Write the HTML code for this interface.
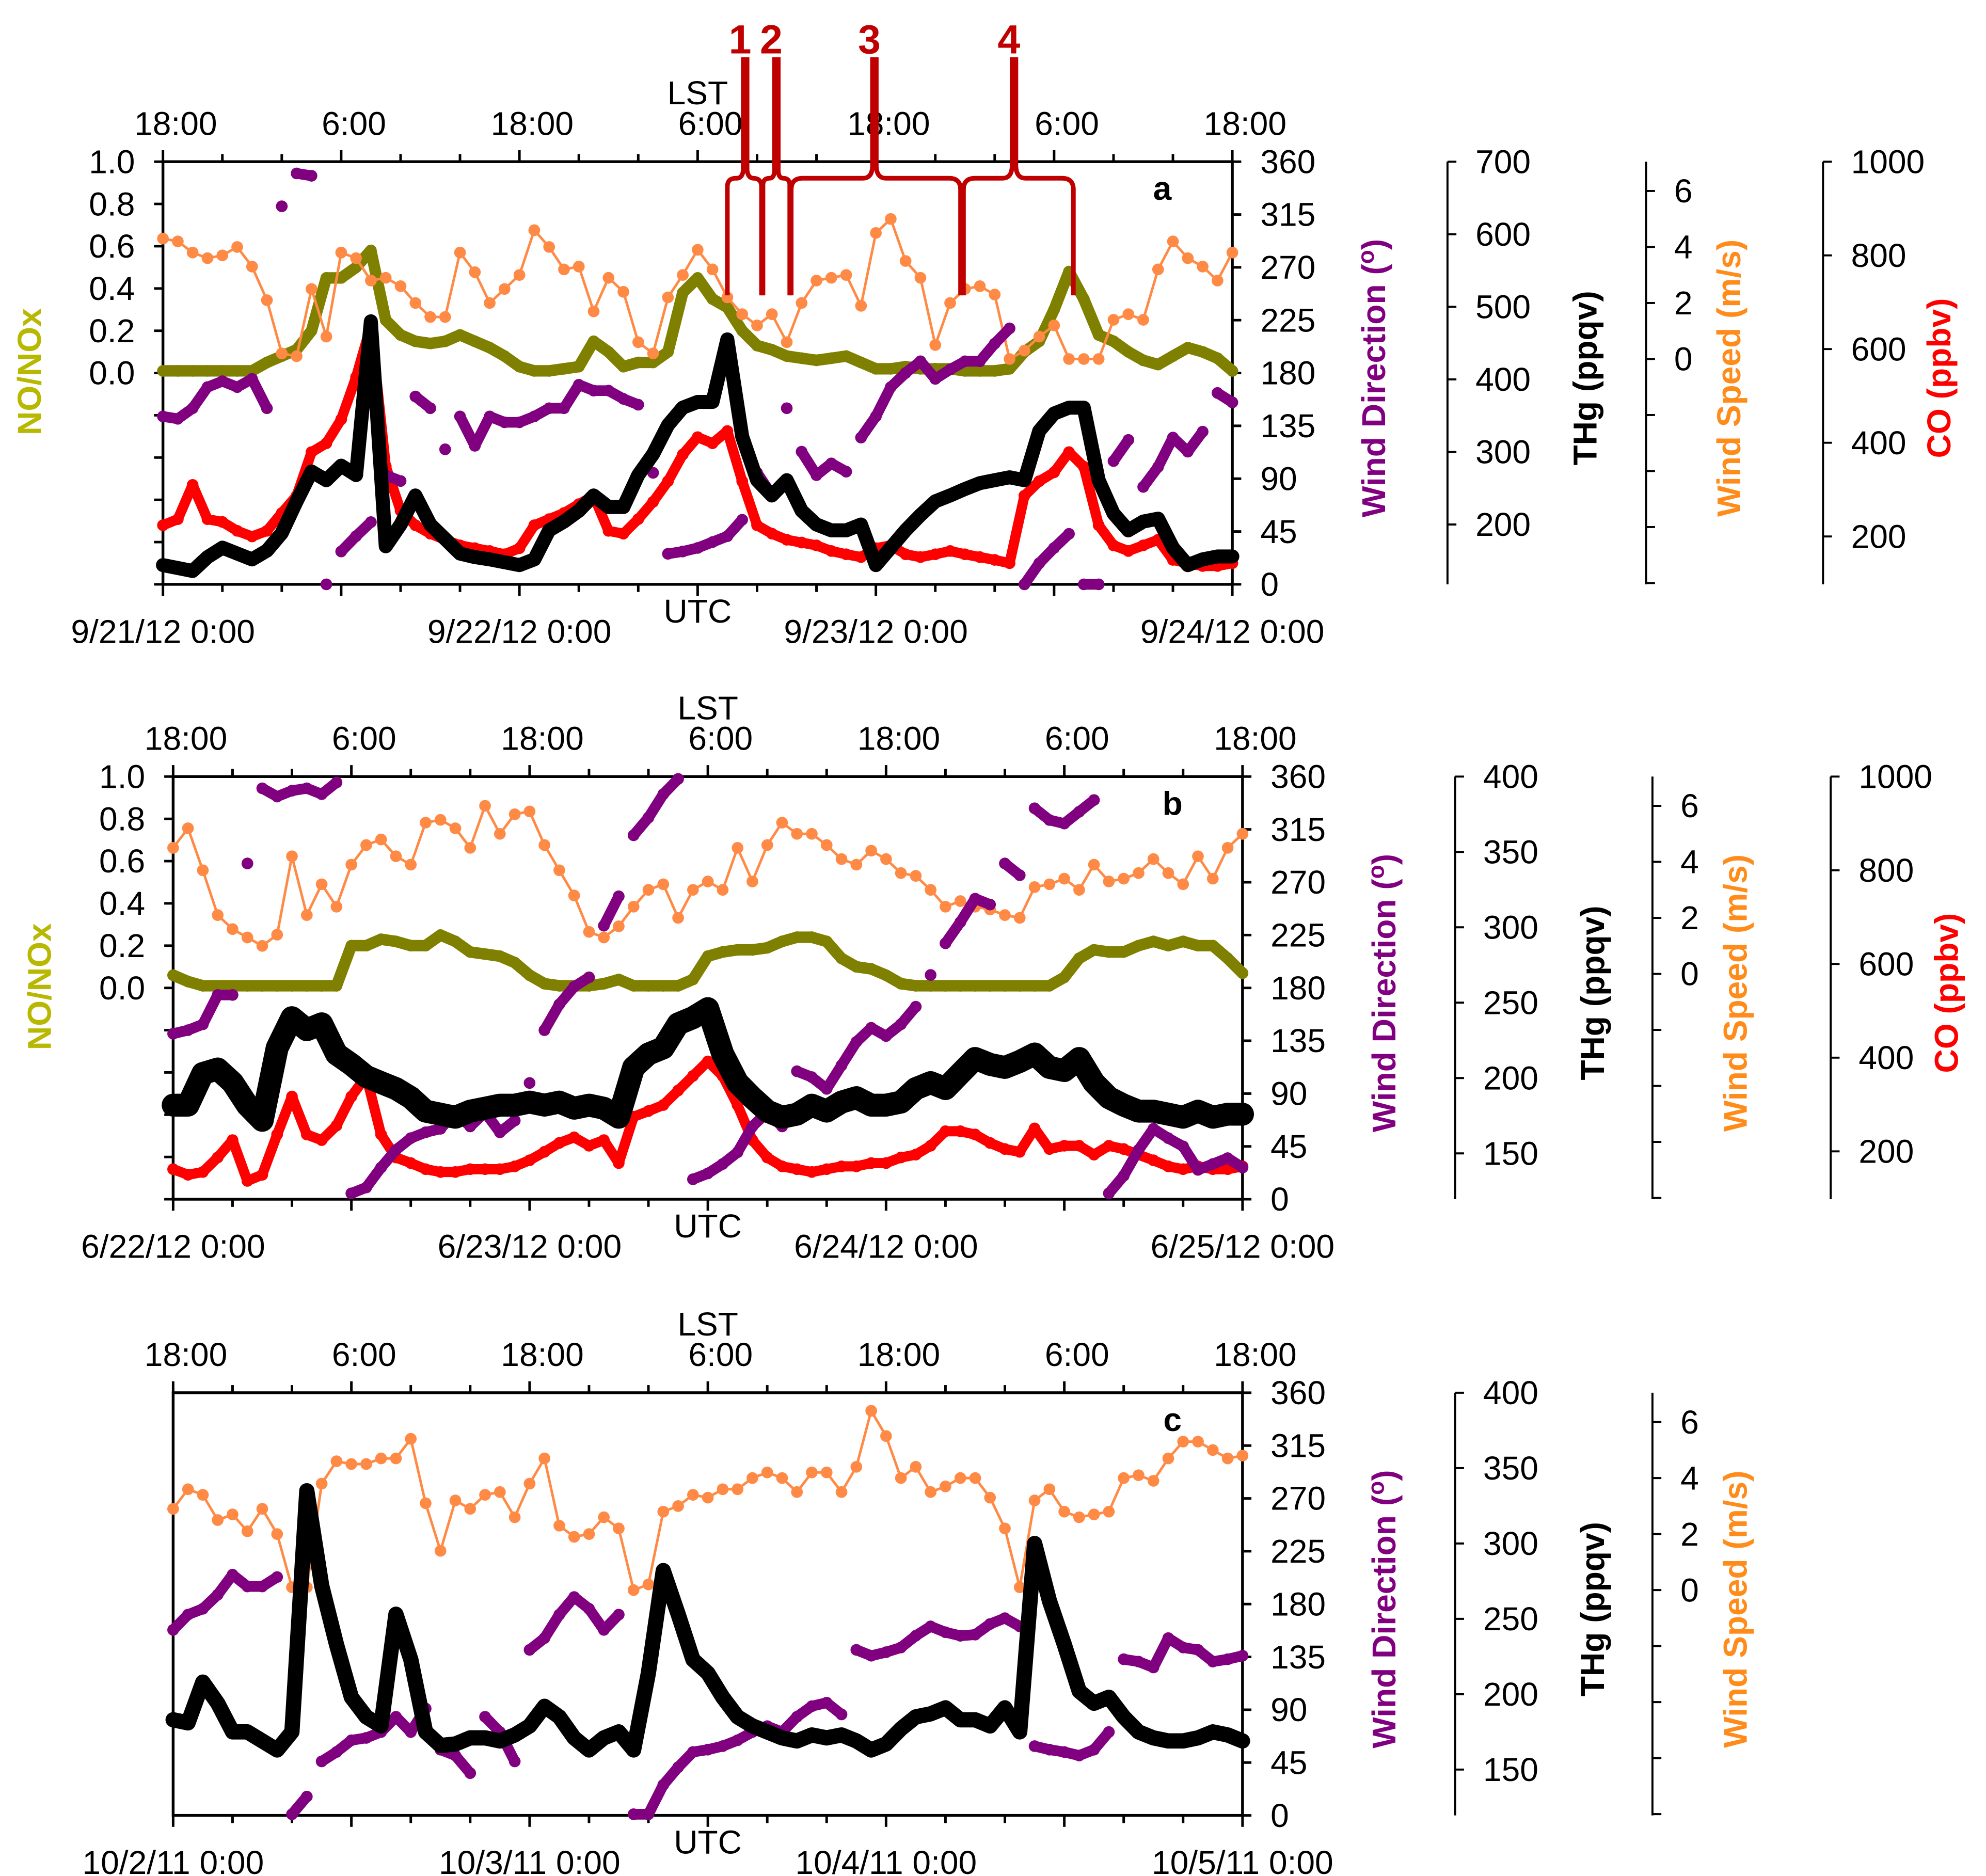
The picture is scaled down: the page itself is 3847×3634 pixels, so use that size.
<!DOCTYPE html>
<html><head><meta charset="utf-8"><style>
html,body{margin:0;padding:0;background:#fff;}
svg{display:block;font-family:"Liberation Sans",Arial,sans-serif;}
</style></head><body>
<svg id="chart" xmlns="http://www.w3.org/2000/svg" width="3847" height="3634" viewBox="0 0 1560 1473.6" preserveAspectRatio="none"></svg>
<script>
// ---------- data ----------
const hours = Array.from({length:73},(_,i)=>i);
const lstLabels = ["18:00","6:00","18:00","6:00","18:00","6:00","18:00"];
const wdTicks = [0,45,90,135,180,225,270,315,360];
const noTicks = [0.0,0.2,0.4,0.6,0.8,1.0];
const datesA = ["9/21/12 0:00","9/22/12 0:00","9/23/12 0:00","9/24/12 0:00"];
const datesB = ["6/22/12 0:00","6/23/12 0:00","6/24/12 0:00","6/25/12 0:00"];
const datesC = ["10/2/11 0:00","10/3/11 0:00","10/4/11 0:00","10/5/11 0:00"];
const thgTicksA = [200,300,400,500,600,700];
const thgTicksBC = [150,200,250,300,350,400];
const wsTicks = [0,2,4,6];
const coTicks = [200,400,600,800,1000];

const aTHg = [144,140,136,155,168,160,152,164,188,232,273,261,
 281,268,480,170,200,240,200,180,160,155,152,148,
 144,152,192,204,219,240,224,224,268,297,337,361,
 369,369,455,321,261,240,261,219,200,192,192,200,
 144,168,192,213,232,240,249,257,261,265,261,329,
 353,361,361,261,215,192,204,208,168,144,152,156,156];
const aCO = [224,237,310,237,231,212,200,212,250,287,380,399,
 450,540,650,350,255,224,206,193,181,175,169,162,
 175,224,237,250,269,287,212,206,237,274,318,375,
 412,399,425,318,224,206,193,187,181,169,162,156,
 175,181,162,156,162,169,162,156,150,143,287,318,
 337,380,349,224,181,169,181,193,150,143,137,137,143];
const aNO = [0.01,0.01,0.01,0.01,0.01,0.01,0.01,0.05,0.08,0.11,0.2,0.45,
 0.45,0.5,0.58,0.25,0.18,0.15,0.14,0.15,0.18,0.15,0.12,0.08,
 0.03,0.01,0.01,0.02,0.03,0.15,0.1,0.03,0.05,0.05,0.1,0.38,
 0.45,0.35,0.31,0.2,0.13,0.11,0.08,0.07,0.06,0.07,0.08,0.05,
 0.02,0.02,0.03,0.02,0.02,0.02,0.01,0.01,0.01,0.02,0.1,0.15,
 0.3,0.48,0.35,0.18,0.15,0.1,0.06,0.04,0.08,0.12,0.1,0.07,0.01];
const aWS = [4.3,4.2,3.8,3.6,3.7,4.0,3.3,2.1,0.2,0.1,2.5,0.8,
 3.8,3.6,2.8,2.9,2.6,2.0,1.5,1.5,3.8,3.1,2.0,2.5,
 3.0,4.6,4.0,3.2,3.3,1.7,2.9,2.4,0.6,0.2,2.2,3.0,
 3.9,3.2,2.2,1.6,1.2,1.6,0.6,2.0,2.8,2.9,3.0,1.9,
 4.5,5.0,3.5,2.9,0.5,2.0,2.5,2.6,2.3,0.0,0.3,0.8,
 1.2,0.0,0.0,0.0,1.4,1.6,1.4,3.2,4.2,3.6,3.3,2.8,3.8];
const aWD = [143,141,150,168,173,168,175,150,322,350,348,0,
 28,41,53,93,88,160,150,115,143,118,143,138,
 138,143,150,150,170,165,165,158,153,95,26,28,
 31,36,41,55,95,76,150,113,93,103,96,125,
 143,168,180,190,175,183,190,190,205,218,0,18,
 31,43,0,0,105,123,83,100,125,113,130,163,155];

const bTHg = [182,182,203,206,197,182,172,220,240,232,236,216,
 209,201,197,193,187,178,176,174,178,180,182,182,
 184,182,184,180,182,180,174,207,216,220,236,240,
 246,216,197,187,178,174,176,182,178,184,187,182,
 182,184,193,197,193,203,213,209,207,211,216,207,
 205,213,197,187,182,178,178,176,174,178,174,176,176];
const bCO = [162,150,156,187,224,137,150,236,317,236,224,255,
 317,361,236,187,175,162,156,156,162,162,162,168,
 181,199,218,230,212,224,175,274,286,299,330,361,
 392,361,299,224,187,168,162,156,162,168,168,175,
 175,187,193,212,243,243,236,218,205,199,249,205,
 212,212,193,212,205,193,181,168,162,168,162,162,168];
const bNO = [0.06,0.03,0.01,0.01,0.01,0.01,0.01,0.01,0.01,0.01,0.01,0.01,
 0.2,0.2,0.23,0.22,0.2,0.2,0.25,0.22,0.17,0.16,0.15,0.12,
 0.06,0.02,0.01,0.01,0.01,0.02,0.04,0.01,0.01,0.01,0.01,0.04,
 0.15,0.17,0.18,0.18,0.19,0.22,0.24,0.24,0.22,0.14,0.1,0.09,
 0.06,0.02,0.01,0.01,0.01,0.01,0.01,0.01,0.01,0.01,0.01,0.01,
 0.05,0.14,0.18,0.17,0.17,0.2,0.22,0.2,0.22,0.2,0.2,0.14,0.07];
const bWS = [4.5,5.2,3.7,2.1,1.6,1.3,1.0,1.4,4.2,2.1,3.2,2.4,
 3.9,4.6,4.8,4.2,3.9,5.4,5.5,5.2,4.5,6.0,5.0,5.7,
 5.8,4.6,3.7,2.8,1.5,1.3,1.7,2.4,3.0,3.2,2.0,3.0,
 3.3,3.0,4.5,3.3,4.6,5.4,5.0,5.0,4.6,4.1,3.9,4.4,
 4.1,3.6,3.5,3.0,2.4,2.6,2.4,2.3,2.1,2.0,3.1,3.2,
 3.4,3.0,3.9,3.3,3.4,3.6,4.1,3.6,3.2,4.2,3.4,4.5,5.0];
const bWD = [141,144,149,174,174,286,350,343,348,350,345,355,
 5,10,27,42,52,57,60,74,62,74,57,67,
 99,144,166,181,189,233,258,310,325,345,358,17,
 22,30,40,62,74,62,109,104,94,114,134,146,
 139,149,164,191,218,236,256,251,286,276,333,323,
 320,330,340,5,20,42,60,52,45,25,30,35,27];

const cTHg = [183,181,208,194,175,175,169,163,175,335,272,233,
 198,185,179,253,223,175,166,167,171,171,169,173,
 179,192,185,171,163,171,175,163,214,282,253,223,
 214,198,185,179,175,171,169,173,171,173,169,163,
 167,177,185,187,191,183,183,179,191,175,300,262,
 233,202,194,198,185,175,171,169,169,171,175,173,169];
const cWS = [2.9,3.6,3.4,2.5,2.7,2.1,2.9,2.0,0.1,0.1,3.8,4.6,
 4.5,4.5,4.7,4.7,5.4,3.1,1.4,3.2,2.9,3.4,3.5,2.6,
 3.8,4.7,2.3,1.9,2.0,2.6,2.2,0.0,0.2,2.8,3.0,3.4,
 3.3,3.6,3.6,4.0,4.2,4.0,3.5,4.2,4.2,3.5,4.4,6.4,
 5.5,4.0,4.4,3.5,3.7,4.0,4.0,3.3,2.2,0.1,3.2,3.6,
 2.8,2.6,2.7,2.8,4.0,4.1,3.9,4.7,5.3,5.3,5.0,4.7,4.8];
const cWD = [158,171,176,188,205,195,195,203,1,16,46,54,
 64,66,71,84,71,91,56,51,36,84,71,46,
 141,151,171,186,176,158,171,1,1,26,41,54,
 56,59,64,71,76,71,84,93,96,86,141,136,
 139,143,153,161,156,153,154,163,168,161,59,56,
 54,51,56,71,133,131,126,151,143,141,131,133,136];

// ---------- helpers ----------
const NS = "http://www.w3.org/2000/svg";
const svg = document.getElementById("chart");
function mk(tag, attrs, parent){
  const e = document.createElementNS(NS, tag);
  for (const k in attrs) e.setAttribute(k, attrs[k]);
  (parent||svg).appendChild(e);
  return e;
}
function txt(s, attrs, parent){ const e = mk("text", attrs, parent); e.textContent = s; return e; }

const C_PURPLE="#800080", C_RED="#FF0000", C_OLIVE="#808000", C_ORANGE="#FF8A45", C_BLACK="#000000";

function drawPanel(P){
  const g = mk("g", {});
  
  
  const W = 840, H = 332, x0 = P.x0, y0 = P.y0;
  const xOf = h => x0 + h/72*W;
  const yWD = v => y0 + (1 - v/360)*H;
  const yNO = v => y0 + (1 - v)*166;
  const yTHg = v => y0 + (P.thgTop - v)*P.thgScale;
  const yWS = v => y0 + 23 + (6 - v)*22;
  const yCO = v => y0 + (1000 - v)*0.368;

  const frame = mk("rect", {x:x0, y:y0, width:W, height:H, fill:"none", stroke:"#000", "stroke-width":2.2}, g);
  
  

  for (let h=0; h<=72; h+=4){
    const L = (h%12===0)?9:6;
    const t1 = mk("line", {x1:xOf(h), x2:xOf(h), y1:y0, y2:y0-L, stroke:"#000","stroke-width":2}, g);
    
    
    const t2 = mk("line", {x1:xOf(h), x2:xOf(h), y1:y0+H, y2:y0+H+L, stroke:"#000","stroke-width":2}, g);
    
    
  }
  lstLabels.forEach((s,i)=>{
    const t = txt(s, {x:xOf(i*12)+10, y:y0-21, "font-size":26, "text-anchor":"middle"}, g);
    
    
  });
  P.dates.forEach((s,i)=>{
    const t = txt(s, {x:xOf(i*24), y:y0+H+46, "font-size":26, "text-anchor":"middle"}, g);
    
    
  });
  const lst = txt("LST", {x:x0+420, y:y0-45, "font-size":26, "text-anchor":"middle"}, g);
  
  
  const utc = txt("UTC", {x:x0+420, y:y0+H+30, "font-size":26, "text-anchor":"middle"}, g);
  
  
  const letter = txt(P.letter, {x:x0+785, y:y0+30, "font-size":26, "font-weight":"bold", "text-anchor":"middle"}, g);
  
  

  wdTicks.forEach(v=>{
    const t = mk("line", {x1:x0+W, x2:x0+W+7, y1:yWD(v), y2:yWD(v), stroke:"#000","stroke-width":2}, g);
    
    
    const l = txt(String(v), {x:x0+W+22, y:yWD(v)+9, "font-size":26}, g);
    
    
  });
  const wdT = txt("Wind Direction (", {transform:`translate(${P.axX[0]},${y0+170}) rotate(-90)`, "font-size":26, "font-weight":"bold", fill:C_PURPLE, "text-anchor":"middle"}, g);
  const sup = document.createElementNS(NS,"tspan"); sup.setAttribute("dy","-9"); sup.setAttribute("font-size","18"); sup.textContent="o"; wdT.appendChild(sup);
  const cl = document.createElementNS(NS,"tspan"); cl.setAttribute("dy","9"); cl.textContent=")"; wdT.appendChild(cl);
  
  

  if (P.no){
    for (let k=0;k<=10;k++){
      const t = mk("line", {x1:x0-7, x2:x0, y1:y0+k*H/10, y2:y0+k*H/10, stroke:"#000","stroke-width":2}, g);
      
      
    }
    noTicks.forEach(v=>{
      const l = txt(v.toFixed(1), {x:x0-22, y:yNO(v)+9, "font-size":26, "text-anchor":"end"}, g);
      
      
    });
    const nt = txt("NO/NOx", {transform:`translate(${x0-96},${y0+165}) rotate(-90)`, "font-size":26, "font-weight":"bold", fill:"#B8B800", "text-anchor":"middle"}, g);
    
    
  }

  function extraAxis(ax, ticks, yf, labelOK, name, title, color, titleX){
    const ln = mk("line", {x1:ax, x2:ax, y1:y0, y2:y0+H, stroke:"#000","stroke-width":1.6}, g);
    
    
    ticks.forEach(v=>{
      const y = yf(v);
      const t = mk("line", {x1:ax, x2:ax+7, y1:y, y2:y, stroke:"#000","stroke-width":1.6}, g);
      
      
      if (labelOK(v)){
        const l = txt(String(v), {x:ax+22, y:y+9, "font-size":26}, g);
        
        
      }
    });
    const tt = txt(title, {transform:`translate(${titleX},${y0+170}) rotate(-90)`, "font-size":26, "font-weight":"bold", fill:color, "text-anchor":"middle"}, g);
    
    
  }
  extraAxis(P.axX[1], P.thgTicks, yTHg, ()=>true, 'thg', 'THg (ppqv)', '#000', P.axX[1]+117);
  const wsAll = [-8,-6,-4,-2].concat(wsTicks);
  extraAxis(P.axX[2], wsAll, yWS, v=>v>=0, 'wind-speed', 'Wind Speed (m/s)', '#FF8C1A', P.axX[2]+74);
  if (P.co) extraAxis(P.axX[3], coTicks, yCO, ()=>true, 'co', 'CO (ppbv)', '#FF0000', P.axX[3]+100);

  function band(vals, yf, color, sw, r, name){
    const pts = hours.map((h,i)=>xOf(h).toFixed(1)+","+yf(vals[i]).toFixed(1)).join(" ");
    const pl = mk("polyline", {points:pts, fill:"none", stroke:color, "stroke-width":sw, "stroke-linejoin":"round", "stroke-linecap":"round"}, g);
    
    
    hours.forEach((h,i)=>{
      const c = mk("circle", {cx:xOf(h), cy:yf(vals[i]), r:r, fill:color}, g);
      
      
    });
  }
  function lineDots(vals, yf, color, name){
    const pts = hours.map((h,i)=>xOf(h).toFixed(1)+","+yf(vals[i]).toFixed(1)).join(" ");
    const pl = mk("polyline", {points:pts, fill:"none", stroke:color, "stroke-width":2}, g);
    
    
    hours.forEach((h,i)=>{
      const c = mk("circle", {cx:xOf(h), cy:yf(vals[i]), r:4.6, fill:color}, g);
      
      
    });
  }
  function scatterWD(vals, name){
    for (let i=1;i<hours.length;i++){
      if (Math.abs(vals[i]-vals[i-1])<=25){
        const s = mk("line", {x1:xOf(hours[i-1]), y1:yWD(vals[i-1]), x2:xOf(hours[i]), y2:yWD(vals[i]), stroke:C_PURPLE, "stroke-width":8.4, "stroke-linecap":"round"}, g);
        
        
      }
    }
    hours.forEach((h,i)=>{
      const c = mk("circle", {cx:xOf(h), cy:yWD(vals[i]), r:4.6, fill:C_PURPLE}, g);
      
      
    });
  }

  if (P.no) band(P.no, yNO, C_OLIVE, 9, 4.6, 'no-nox');
  lineDots(P.ws, yWS, C_ORANGE, 'wind-speed');
  if (P.co) band(P.co, yCO, C_RED, 8, 4.6, 'co');
  scatterWD(P.wd, 'wind-direction');
  band(P.thg, yTHg, C_BLACK, P.thgBand, 4.8, 'thg');
}

drawPanel({name:'panel-a', letter:'a', x0:128, y0:127, dates:datesA, axX:[1088,1137,1293,1432],
  thgTop:700, thgScale:0.57, thgTicks:thgTicksA, no:aNO, co:aCO, ws:aWS, wd:aWD, thg:aTHg, thgBand:11});
drawPanel({name:'panel-b', letter:'b', x0:136, y0:610, dates:datesB, axX:[1096,1143,1298,1438],
  thgTop:400, thgScale:1.184, thgTicks:thgTicksBC, no:bNO, co:bCO, ws:bWS, wd:bWD, thg:bTHg, thgBand:18});
drawPanel({name:'panel-c', letter:'c', x0:136, y0:1094, dates:datesC, axX:[1096,1143,1298,0],
  thgTop:400, thgScale:1.184, thgTicks:thgTicksBC, no:null, co:null, ws:cWS, wd:cWD, thg:cTHg, thgBand:12});

// ---------- event brackets (panel a) ----------
const eventLabels = ["1","2","3","4"];
const eventStart = [38.0, 40.4, 42.3, 53.9];
const eventEnd = [40.3, 42.2, 53.7, 61.3];
const eventPeak = [39.2, 41.3, 47.9, 57.3];
const xA = h => 128 + h/72*840;
const bg = mk("g", {});


eventLabels.forEach((s,i)=>{
  const x1 = xA(eventStart[i]), x2 = xA(eventEnd[i]), xp = xA(eventPeak[i]);
  const rr = Math.min(9, (x2-x1)/4);
  const d = `M${x1},232 L${x1},${140+rr} Q${x1},140 ${x1+rr},140 L${xp-rr},140 Q${xp-2},140 ${xp-1.5},${140-rr} L${xp-1.5},45 M${xp+1.5},45 L${xp+1.5},${140-rr} Q${xp+2},140 ${xp+rr},140 L${x2-rr},140 Q${x2},140 ${x2},${140+rr} L${x2},232`;
  const p = mk("path", {d:d, fill:"none", stroke:"#C00000", "stroke-width":3.6}, bg);
  
  
  const t = txt(s, {x:xp-4, y:42, "font-size":32, "font-weight":"bold", fill:"#C00000", "text-anchor":"middle"}, bg);
  
  
});
</script>
</body></html>
